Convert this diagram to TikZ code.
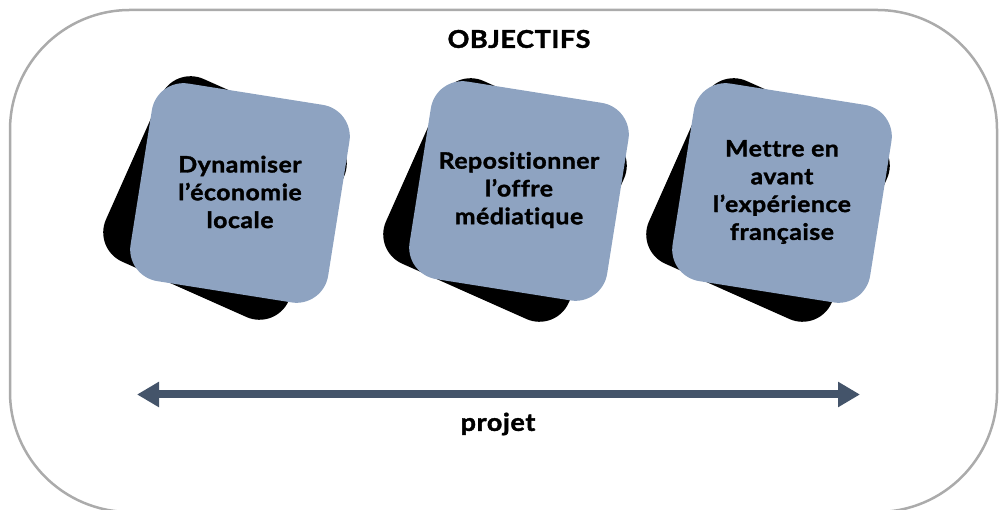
\documentclass[tikz,border=0pt]{standalone}
\usepackage{fontspec}
\setmainfont{Lato}[BoldFeatures={FakeStretch=1.1, FakeBold=1.6, LetterSpace=2.5}, Ligatures=NoCommon]
\usetikzlibrary{arrows.meta}
\definecolor{framegray}{HTML}{ABABAB}
\definecolor{tileblue}{HTML}{8EA3C1}
\definecolor{slate}{HTML}{44546A}
\begin{document}
\begin{tikzpicture}[x=1pt,y=1pt,
  backtile/.style={shape=rectangle, fill=black, minimum width=200pt, minimum height=200pt,
    inner sep=0pt, rounded corners=32pt, rotate=-24},
  fronttile/.style={shape=rectangle, fill=tileblue, minimum width=200pt, minimum height=200pt,
    inner sep=0pt, rounded corners=32pt, rotate=-9},
  tiletext/.style={align=center, font=\bfseries\fontsize{22.5}{27.8}\selectfont, text=black},
  heading/.style={font=\bfseries\fontsize{24.5}{28}\selectfont, text=black}]
\useasboundingbox (0,0) rectangle (1000,510);

% outer frame
\draw[framegray, line width=2.5pt, rounded corners=120pt] (10,-2) rectangle (997,500);

% title
\node[heading] (title) at (519,471) {OBJECTIFS};

% tiles: black back square, blue front square, label
\node[backtile] (b1) at (225,312) {};
\node[fronttile] (f1) at (240,317) {};
\node[tiletext] (t1) at (240,318) {Dynamiser\\l’économie\\locale};

\node[backtile] (b2) at (505,310) {};
\node[fronttile] (f2) at (519,319) {};
\node[tiletext] (t2) at (519,320) {Repositionner\\l’offre\\médiatique};

\node[backtile] (b3) at (768,310) {};
\node[fronttile] (f3) at (782,317) {};
\node[tiletext] (t3) at (782,318) {Mettre en\\avant\\l’expérience\\française};

% project axis
\coordinate (pl) at (137,115.5);
\coordinate (pr) at (860,115.5);
\draw[slate, line width=8pt, {Triangle[width=24pt,length=22pt]}-{Triangle[width=24pt,length=22pt]}] (pl) -- (pr);
\node[heading] (proj) at (498,86) {projet};
\end{tikzpicture}
\end{document}
